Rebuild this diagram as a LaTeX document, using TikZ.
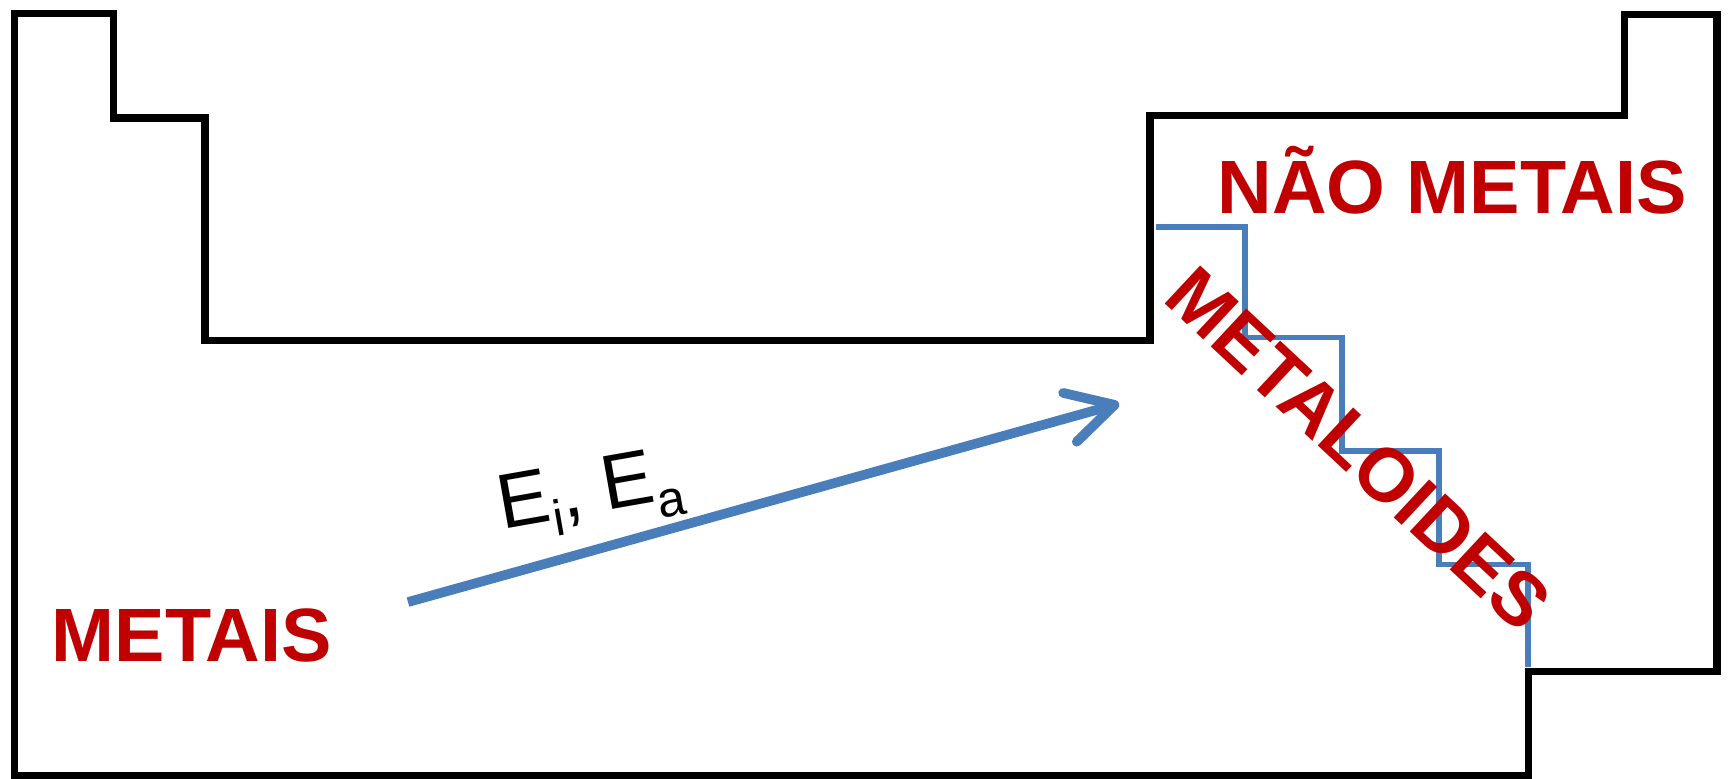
\documentclass[tikz,border=0pt]{standalone}
\usepackage{fontspec}
\setmainfont{Liberation Sans}
\usetikzlibrary{arrows.meta}
\definecolor{tabred}{HTML}{C00000}
\definecolor{tabblue}{HTML}{4A7EBB}
\tikzset{
  outline/.style={draw=black, line width=1.9pt, line join=miter},
  stair/.style={draw=tabblue, line width=1.5pt},
  trendarrow/.style={draw=tabblue, line width=2.5pt, line cap=butt,
    -{Straight Barb[length=4.2mm, width=4.6mm, round]}},
  grouplabel/.style={text=tabred, font=\bfseries\fontsize{19.5pt}{22pt}\selectfont, inner sep=0pt},
  energylabel/.style={text=black, font=\fontsize{20pt}{24pt}\selectfont, inner sep=0pt}
}
\begin{document}
\begin{tikzpicture}[x=0.1mm, y=-0.1mm]
\useasboundingbox (0,0) rectangle (1568,706);
% table outline
\draw[outline] (13,12) -- (103,12) -- (103,107) -- (186,107) -- (186,309)
  -- (1043,309) -- (1043,105) -- (1473,105) -- (1473,13) -- (1557,13)
  -- (1557,609) -- (1386,609) -- (1386,703) -- (13,703) -- cycle;
% metalloid staircase
\draw[stair] (1048,206) -- (1129,206) -- (1129,306) -- (1217,306) -- (1217,409)
  -- (1305,409) -- (1305,512) -- (1386,512) -- (1386,605);
% labels
\node[grouplabel, anchor=base] (metais) at (174,600) {METAIS};
\node[grouplabel, anchor=base] (naometais) at (1317,194) {NÃO METAIS};
\node[grouplabel, rotate=-43] (metaloides) at (1232,407) {METALOIDES};
% trend arrow
\coordinate (astart) at (370,546);
\coordinate (aend) at (1015,366);
\draw[trendarrow] (astart) -- (aend);
\node[energylabel, rotate=10, anchor=base west] (energias) at (455,480)
  {E\raisebox{-0.22em}{\fontsize{13pt}{15pt}\selectfont i}, E\raisebox{-0.22em}{\fontsize{13pt}{15pt}\selectfont a}};
\end{tikzpicture}
\end{document}
